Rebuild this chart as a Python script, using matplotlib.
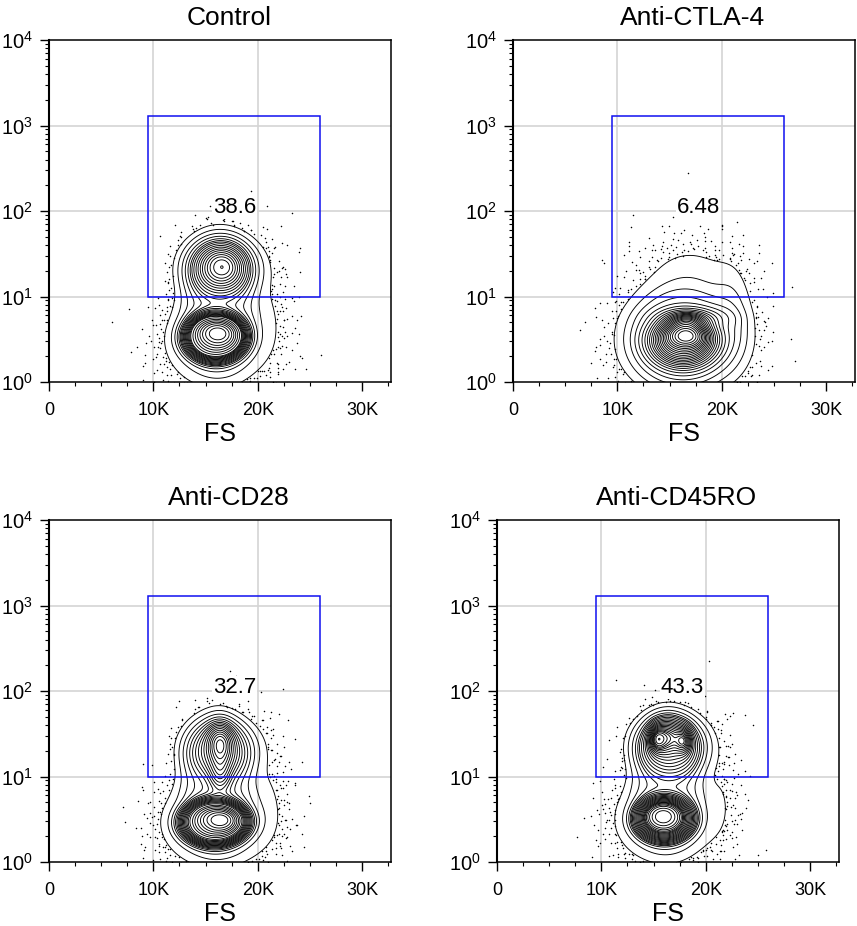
#!/usr/bin/env python3
"""
Contour plots (FS vs log intensity) for four treatment conditions,
each with a rectangular gate and the percentage of events inside it.

Output: out.png (857 x 926 px)
"""

import numpy as np
import matplotlib

matplotlib.use("Agg")

import matplotlib.pyplot as plt
from matplotlib.patches import Rectangle
from matplotlib.ticker import FixedLocator, MultipleLocator, LogLocator, NullFormatter

plt.rcParams["font.family"] = ["Liberation Sans", "DejaVu Sans"]
plt.rcParams["mathtext.fontset"] = "custom"
plt.rcParams["mathtext.rm"] = "Liberation Sans"
plt.rcParams["mathtext.it"] = "Liberation Sans:italic"
plt.rcParams["mathtext.bf"] = "Liberation Sans:bold"

OUT = "out.png"
DPI = 100

# ---- chart data ---------------------------------------------------------
TITLES = ["Control", "Anti-CTLA-4", "Anti-CD28", "Anti-CD45RO"]
GATE_PCT = ["38.6", "6.48", "32.7", "43.3"]
GATE_FS = [9500, 26000]
GATE_Y = [10, 1300]
FS_MAX = 32768
FS_TICKS = [0, 10000, 20000, 30000]
FS_TICK_LABELS = ["0", "10K", "20K", "30K"]
Y_TICKS = [1, 10, 100, 1000, 10000]
Y_TICK_LABELS = [r"$10^{0}$", r"$10^{1}$", r"$10^{2}$", r"$10^{3}$", r"$10^{4}$"]
N_EVENTS = 8000

# Populations: centre FS (K), centre log10 intensity,
# spread FS (K), spread log10, relative weight, shape (2 = round, 4 = flat top).
CTRL_FS = [16.6, 16.4, 16.2, 15.9, 16.0, 16.3, 21.2, 16.5]
CTRL_LOG = [1.36, 1.34, 0.57, 0.52, 0.48, 0.95, 0.9, 1.3]
CTRL_SFS = [1.5, 2.7, 1.3, 2.6, 2.7, 3.0, 1.3, 3.0]
CTRL_SLOG = [0.17, 0.28, 0.11, 0.24, 0.30, 0.62, 0.45, 0.45]
CTRL_W = [0.07, 0.20, 0.06, 0.28, 0.18, 0.18, 0.018, 0.004]
CTRL_SHAPE = [2, 3, 2, 4, 2, 4, 2, 2]

CTLA_FS = [16.3, 16.3, 16.6, 17.2, 17.0, 21.0]
CTLA_LOG = [0.48, 0.50, 0.54, 0.75, 1.3, 0.8]
CTLA_SFS = [2.8, 2.9, 1.3, 1.8, 3.2, 1.2]
CTLA_SLOG = [0.26, 0.31, 0.10, 0.07, 0.28, 0.35]
CTLA_W = [0.36, 0.36, 0.07, 0.04, 0.03, 0.018]
CTLA_SHAPE = [4, 2, 2, 2, 2, 2]

CD28_FS = [16.4, 16.3, 16.4, 16.5, 15.8, 16.0, 16.1, 21.0, 16.5]
CD28_LOG = [1.38, 1.32, 1.00, 0.49, 0.46, 0.46, 0.95, 0.9, 1.3]
CD28_SFS = [0.8, 2.6, 0.7, 1.4, 2.7, 2.8, 2.9, 1.3, 3.0]
CD28_SLOG = [0.16, 0.28, 0.14, 0.10, 0.22, 0.28, 0.62, 0.45, 0.45]
CD28_W = [0.05, 0.17, 0.02, 0.06, 0.30, 0.20, 0.16, 0.018, 0.004]
CD28_SHAPE = [2, 3, 2, 2, 4, 2, 4, 2, 2]

CD45_FS = [16.3, 15.3, 17.9, 16.6, 15.9, 16.0, 16.0, 16.3, 21.5, 16.5]
CD45_LOG = [1.46, 1.44, 1.42, 1.36, 0.53, 0.50, 0.50, 0.98, 0.8, 1.3]
CD45_SFS = [0.9, 0.5, 0.5, 2.6, 1.2, 2.4, 2.6, 2.8, 1.2, 3.0]
CD45_SLOG = [0.13, 0.10, 0.10, 0.28, 0.11, 0.22, 0.28, 0.62, 0.45, 0.45]
CD45_W = [0.05, 0.02, 0.02, 0.26, 0.06, 0.24, 0.17, 0.16, 0.018, 0.004]
CD45_SHAPE = [2, 2, 2, 3, 2, 4, 2, 4, 2, 2]

# ---- layout (pixels of the 857 x 926 canvas) -----------------------------
FIG_W, FIG_H = 857, 926
AX_SIZE = 342
AX_LEFT = [49, 513, 49, 497]
AX_TOP = [40, 40, 520, 520]

C_GRID = "#d4d4d4"
C_GATE = "#1010f0"

R_GRID = np.linspace(0, 7, 4000)


def halton(n, base, start):
    """Deterministic low-discrepancy sequence in (0, 1)."""
    out = np.empty(n)
    for i in range(n):
        k = i + start
        f = 1.0
        r = 0.0
        while k > 0:
            f /= base
            r += f * (k % base)
            k //= base
        out[i] = r
    return out


def radial_norm(p):
    return 2 * np.pi * np.trapezoid(R_GRID * np.exp(-0.5 * R_GRID ** p), R_GRID)


def density(pops, x, u):
    """Mixture density in (FS[K], log10) space."""
    fs, lg, sfs, slg, w, shp = [np.asarray(p, float) for p in pops]
    w = w / w.sum()
    z = np.zeros_like(x, dtype=float)
    for cx, cu, sx, su, wk, p in zip(fs, lg, sfs, slg, w, shp):
        r = np.sqrt(((x - cx) / sx) ** 2 + ((u - cu) / su) ** 2)
        z += wk / (radial_norm(p) * sx * su) * np.exp(-0.5 * r ** p)
    return z


def events(pops, n):
    """Event positions spread over each population with a Halton sequence."""
    fs, lg, sfs, slg, w, shp = [np.asarray(p, float) for p in pops]
    w = w / w.sum()
    xs, us = [], []
    for k, (cx, cu, sx, su, wk, p) in enumerate(zip(fs, lg, sfs, slg, w, shp)):
        m = int(round(wk * n))
        pdf = R_GRID * np.exp(-0.5 * R_GRID ** p)
        cdf = np.cumsum(pdf)
        cdf /= cdf[-1]
        r = np.interp(halton(m, 2, 17 + 997 * k), cdf, R_GRID)
        t = 2 * np.pi * halton(m, 3, 29 + 613 * k)
        xs.append(cx + sx * r * np.cos(t))
        us.append(cu + su * r * np.sin(t))
    return np.concatenate(xs), np.concatenate(us)


def prob_levels(z, fractions):
    """Density levels enclosing the given fractions of the events."""
    flat = np.sort(z.ravel())[::-1]
    cum = np.cumsum(flat)
    cum /= cum[-1]
    lv = [flat[np.searchsorted(cum, f)] for f in fractions]
    return np.unique(lv)


def draw_panel(ax, title, pct, pops):
    gx = np.linspace(0, 34, 420)
    gu = np.linspace(-1.2, 4.0, 420)
    X, U = np.meshgrid(gx, gu)
    Z = density(pops, X, U)
    fractions = np.arange(0.96, 0.03, -0.04)
    levels = prob_levels(Z, fractions)

    # grid lines
    for xv in FS_TICKS[1:3]:
        ax.axvline(xv, color=C_GRID, lw=1.2, zorder=0)
    for yv in Y_TICKS[1:4]:
        ax.axhline(yv, color=C_GRID, lw=1.2, zorder=0)

    ax.contour(X * 1000, 10 ** U, Z, levels=levels, colors="k",
               linewidths=0.65, zorder=2)

    ex, eu = events(pops, N_EVENTS)
    keep = density(pops, ex, eu) < levels[0]
    ax.plot(ex[keep] * 1000, 10 ** eu[keep], "o", ms=1.1, mew=0,
            color="k", zorder=2)

    ax.add_patch(Rectangle((GATE_FS[0], GATE_Y[0]), GATE_FS[1] - GATE_FS[0],
                           GATE_Y[1] - GATE_Y[0], fill=False,
                           edgecolor=C_GATE, lw=1.1, zorder=3))
    ax.text(sum(GATE_FS) / 2, 110, pct, ha="center", va="center", fontsize=16,
            zorder=4, bbox=dict(facecolor="white", edgecolor="none", pad=0.6))

    ax.set_yscale("log")
    ax.set_xlim(0, FS_MAX)
    ax.set_ylim(Y_TICKS[0], Y_TICKS[-1])

    ax.xaxis.set_major_locator(FixedLocator(FS_TICKS))
    ax.set_xticklabels(FS_TICK_LABELS)
    ax.xaxis.set_minor_locator(MultipleLocator(2500))
    ax.yaxis.set_major_locator(FixedLocator(Y_TICKS))
    ax.set_yticklabels(Y_TICK_LABELS)
    ax.yaxis.set_minor_locator(LogLocator(base=10, subs=np.arange(2, 10)))
    ax.yaxis.set_minor_formatter(NullFormatter())

    ax.tick_params(which="major", direction="out", length=6.5, width=1.0,
                   labelsize=13, pad=8, colors="k")
    ax.tick_params(axis="y", which="major", labelsize=14.5, pad=5)
    ax.tick_params(which="minor", direction="out", length=3.2, width=0.8)
    for s in ax.spines.values():
        s.set_linewidth(1.1)
    ax.spines["left"].set_linewidth(1.5)

    ax.set_title(title, fontsize=19, pad=11, x=0.526)
    ax.set_xlabel("FS", fontsize=18, labelpad=2)


def main():
    fig = plt.figure(figsize=(FIG_W / DPI, FIG_H / DPI), dpi=DPI)
    fig.patch.set_facecolor("white")

    panels = [
        (CTRL_FS, CTRL_LOG, CTRL_SFS, CTRL_SLOG, CTRL_W, CTRL_SHAPE),
        (CTLA_FS, CTLA_LOG, CTLA_SFS, CTLA_SLOG, CTLA_W, CTLA_SHAPE),
        (CD28_FS, CD28_LOG, CD28_SFS, CD28_SLOG, CD28_W, CD28_SHAPE),
        (CD45_FS, CD45_LOG, CD45_SFS, CD45_SLOG, CD45_W, CD45_SHAPE),
    ]

    for i, pops in enumerate(panels):
        rect = [AX_LEFT[i] / FIG_W, (FIG_H - AX_TOP[i] - AX_SIZE) / FIG_H,
                AX_SIZE / FIG_W, AX_SIZE / FIG_H]
        ax = fig.add_axes(rect)
        draw_panel(ax, TITLES[i], GATE_PCT[i], pops)

    fig.savefig(OUT, dpi=DPI, facecolor="white")
    plt.close(fig)


if __name__ == "__main__":
    main()
